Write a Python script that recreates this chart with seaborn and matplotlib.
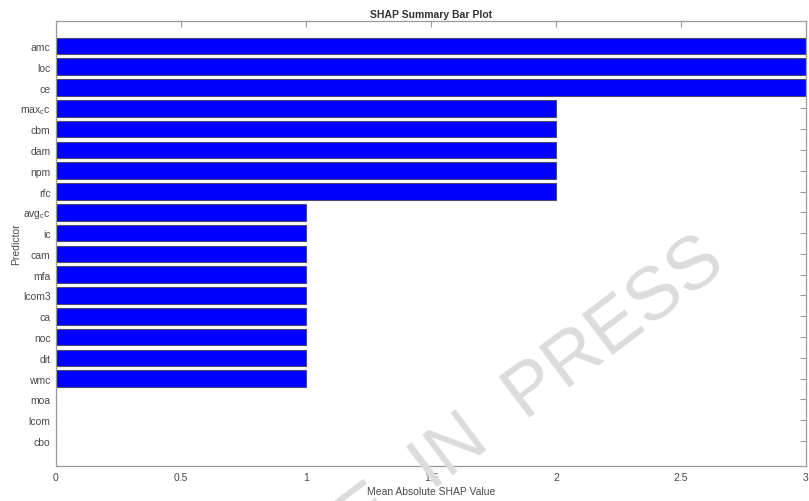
import matplotlib
matplotlib.use("Agg")
import matplotlib.pyplot as plt
import seaborn as sns
import pandas as pd

# Predictors, ordered by importance
predictors = ["amc", "loc", "ce", r"max$_\mathregular{c}$c", "cbm", "dam", "npm", "rfc",
              r"avg$_\mathregular{c}$c", "ic", "cam", "mfa", "lcom3", "ca", "noc", "dit",
              "wmc", "moa", "lcom", "cbo"]
mean_abs_shap = [3, 3, 3, 2, 2, 2, 2, 2, 1, 1, 1, 1, 1, 1, 1, 1, 1, 0, 0, 0]
x_ticks = [0, 0.5, 1, 1.5, 2, 2.5, 3]
x_tick_labels = ["0", "0.5", "1", "1.5", "2", "2.5", "3"]

df = pd.DataFrame({"Predictor": predictors, "Value": mean_abs_shap})

sns.set_style("white")
plt.rcParams["font.family"] = ["Liberation Sans", "DejaVu Sans"]
plt.rcParams["mathtext.fontset"] = "custom"
plt.rcParams["mathtext.rm"] = "Liberation Sans"

fig = plt.figure(figsize=(8.09, 5.02), dpi=100)
ax = fig.add_axes([0.0692, 0.0697, 0.9271, 0.8865])

sns.barplot(data=df, y="Predictor", x="Value", orient="h", color="#0000ff",
            width=0.8, saturation=1, edgecolor="#4a4a70", linewidth=0.8, ax=ax)

ax.set_xlim(0, 3)
ax.set_ylim(20.2, -1.2)
ax.set_xticks(x_ticks)
ax.set_xticklabels(x_tick_labels)

txt_col = "#4a4a4a"
spine_col = "#9a9a9a"
ax.tick_params(axis="both", direction="in", length=4.5, width=0.8, color=spine_col,
               labelsize=7.5, labelcolor=txt_col, top=True, right=True, pad=4)
for s in ax.spines.values():
    s.set_color(spine_col)
    s.set_linewidth(0.9)

ax.set_title("SHAP Summary Bar Plot", fontsize=7.5, fontweight="bold", color="#333333", pad=3)
ax.set_xlabel("Mean Absolute SHAP Value", fontsize=7.5, color=txt_col, labelpad=3)
ax.set_ylabel("Predictor", fontsize=7.5, color=txt_col, labelpad=-1)

fig.text(0.900, 0.466, "ARTICLE  IN  PRESS", fontsize=54, color="#dcdcdc",
         rotation=37, rotation_mode="anchor", ha="right", va="baseline", zorder=10)

fig.savefig("out.png", dpi=100)
